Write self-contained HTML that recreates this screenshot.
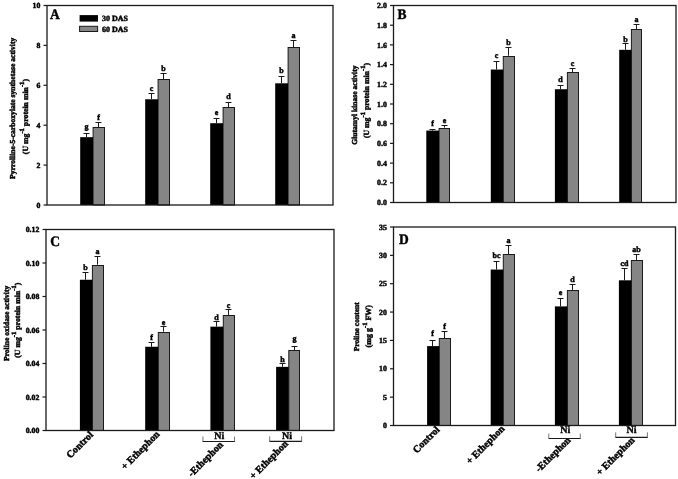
<!DOCTYPE html>
<html><head><meta charset="utf-8"><style>
html,body{margin:0;padding:0;background:#fff;}
svg{display:block;text-rendering:geometricPrecision;will-change:transform;}
text{font-family:"Liberation Serif", serif;font-weight:bold;fill:#000;stroke:#000;stroke-width:0.45px;}
.lt{font-size:8px;}
.tk{font-size:7.8px;}
.pl{font-size:14.5px;}
.lg{font-size:8px;}
.xl{font-size:10px;}
.ni{font-size:10px;stroke-width:0.4px;}
</style></head><body>
<svg width="678" height="479" viewBox="0 0 678 479">
<rect width="678" height="479" fill="#fff"/>
<rect x="93.10" y="127.50" width="11.40" height="77.50" fill="#858585" stroke="#1a1a1a" stroke-width="1"/>
<rect x="80.20" y="137.17" width="12.80" height="67.83" fill="#000"/>
<line x1="86.50" y1="137.17" x2="86.50" y2="133.50" stroke="#1a1a1a" stroke-width="1"/>
<line x1="83.50" y1="133.50" x2="89.50" y2="133.50" stroke="#1a1a1a" stroke-width="1"/>
<text x="86.50" y="128.60" text-anchor="middle" class="lt">g</text>
<line x1="98.50" y1="127.20" x2="98.50" y2="122.50" stroke="#1a1a1a" stroke-width="1"/>
<line x1="95.50" y1="122.50" x2="101.50" y2="122.50" stroke="#1a1a1a" stroke-width="1"/>
<text x="98.50" y="120.00" text-anchor="middle" class="lt">f</text>
<rect x="158.10" y="79.50" width="11.40" height="125.50" fill="#858585" stroke="#1a1a1a" stroke-width="1"/>
<rect x="145.20" y="99.27" width="12.80" height="105.73" fill="#000"/>
<line x1="151.50" y1="99.27" x2="151.50" y2="93.50" stroke="#1a1a1a" stroke-width="1"/>
<line x1="148.50" y1="93.50" x2="154.50" y2="93.50" stroke="#1a1a1a" stroke-width="1"/>
<text x="151.50" y="91.40" text-anchor="middle" class="lt">c</text>
<line x1="163.50" y1="79.32" x2="163.50" y2="73.50" stroke="#1a1a1a" stroke-width="1"/>
<line x1="160.50" y1="73.50" x2="166.50" y2="73.50" stroke="#1a1a1a" stroke-width="1"/>
<text x="163.50" y="71.20" text-anchor="middle" class="lt">b</text>
<rect x="223.10" y="107.50" width="11.40" height="97.50" fill="#858585" stroke="#1a1a1a" stroke-width="1"/>
<rect x="210.20" y="123.21" width="12.80" height="81.79" fill="#000"/>
<line x1="216.50" y1="123.21" x2="216.50" y2="118.50" stroke="#1a1a1a" stroke-width="1"/>
<line x1="213.50" y1="118.50" x2="219.50" y2="118.50" stroke="#1a1a1a" stroke-width="1"/>
<text x="216.50" y="115.40" text-anchor="middle" class="lt">e</text>
<line x1="228.50" y1="107.24" x2="228.50" y2="102.50" stroke="#1a1a1a" stroke-width="1"/>
<line x1="225.50" y1="102.50" x2="231.50" y2="102.50" stroke="#1a1a1a" stroke-width="1"/>
<text x="228.50" y="99.20" text-anchor="middle" class="lt">d</text>
<rect x="288.10" y="47.50" width="11.40" height="157.50" fill="#858585" stroke="#1a1a1a" stroke-width="1"/>
<rect x="275.20" y="83.31" width="12.80" height="121.69" fill="#000"/>
<line x1="281.50" y1="83.31" x2="281.50" y2="76.50" stroke="#1a1a1a" stroke-width="1"/>
<line x1="278.50" y1="76.50" x2="284.50" y2="76.50" stroke="#1a1a1a" stroke-width="1"/>
<text x="281.50" y="73.40" text-anchor="middle" class="lt">b</text>
<line x1="293.50" y1="47.40" x2="293.50" y2="40.50" stroke="#1a1a1a" stroke-width="1"/>
<line x1="290.50" y1="40.50" x2="296.50" y2="40.50" stroke="#1a1a1a" stroke-width="1"/>
<text x="293.50" y="38.00" text-anchor="middle" class="lt">a</text>
<rect x="47" y="5.5" width="286" height="199.5" fill="none" stroke="#1a1a1a" stroke-width="1.3"/>
<line x1="43.5" y1="205.00" x2="47" y2="205.00" stroke="#1a1a1a" stroke-width="1.2"/>
<text x="40.30" y="207.60" text-anchor="end" class="tk">0</text>
<line x1="43.5" y1="165.10" x2="47" y2="165.10" stroke="#1a1a1a" stroke-width="1.2"/>
<text x="40.30" y="167.70" text-anchor="end" class="tk">2</text>
<line x1="43.5" y1="125.20" x2="47" y2="125.20" stroke="#1a1a1a" stroke-width="1.2"/>
<text x="40.30" y="127.80" text-anchor="end" class="tk">4</text>
<line x1="43.5" y1="85.30" x2="47" y2="85.30" stroke="#1a1a1a" stroke-width="1.2"/>
<text x="40.30" y="87.90" text-anchor="end" class="tk">6</text>
<line x1="43.5" y1="45.40" x2="47" y2="45.40" stroke="#1a1a1a" stroke-width="1.2"/>
<text x="40.30" y="48.00" text-anchor="end" class="tk">8</text>
<line x1="43.5" y1="5.50" x2="47" y2="5.50" stroke="#1a1a1a" stroke-width="1.2"/>
<text x="40.30" y="8.10" text-anchor="end" class="tk">10</text>
<text transform="translate(49.90,18.70) scale(0.93,1)" class="pl">A</text>
<rect x="439.10" y="128.50" width="10.40" height="74.00" fill="#858585" stroke="#1a1a1a" stroke-width="1"/>
<rect x="426.30" y="130.59" width="12.70" height="71.91" fill="#000"/>
<line x1="432.50" y1="130.59" x2="432.50" y2="129.50" stroke="#1a1a1a" stroke-width="1"/>
<line x1="429.50" y1="129.50" x2="435.50" y2="129.50" stroke="#1a1a1a" stroke-width="1"/>
<text x="432.50" y="125.70" text-anchor="middle" class="lt">f</text>
<line x1="444.50" y1="127.64" x2="444.50" y2="125.50" stroke="#1a1a1a" stroke-width="1"/>
<line x1="441.50" y1="125.50" x2="447.50" y2="125.50" stroke="#1a1a1a" stroke-width="1"/>
<text x="444.50" y="122.90" text-anchor="middle" class="lt">e</text>
<rect x="503.30" y="56.50" width="11.20" height="146.00" fill="#858585" stroke="#1a1a1a" stroke-width="1"/>
<rect x="490.80" y="69.52" width="12.40" height="132.98" fill="#000"/>
<line x1="496.50" y1="69.52" x2="496.50" y2="61.50" stroke="#1a1a1a" stroke-width="1"/>
<line x1="493.50" y1="61.50" x2="499.50" y2="61.50" stroke="#1a1a1a" stroke-width="1"/>
<text x="496.50" y="58.10" text-anchor="middle" class="lt">c</text>
<line x1="508.50" y1="55.74" x2="508.50" y2="47.50" stroke="#1a1a1a" stroke-width="1"/>
<line x1="505.50" y1="47.50" x2="511.50" y2="47.50" stroke="#1a1a1a" stroke-width="1"/>
<text x="508.50" y="44.80" text-anchor="middle" class="lt">b</text>
<rect x="567.40" y="72.50" width="11.10" height="130.00" fill="#858585" stroke="#1a1a1a" stroke-width="1"/>
<rect x="554.90" y="89.23" width="12.40" height="113.27" fill="#000"/>
<line x1="560.50" y1="89.23" x2="560.50" y2="85.50" stroke="#1a1a1a" stroke-width="1"/>
<line x1="557.50" y1="85.50" x2="563.50" y2="85.50" stroke="#1a1a1a" stroke-width="1"/>
<text x="560.50" y="81.90" text-anchor="middle" class="lt">d</text>
<line x1="572.50" y1="72.48" x2="572.50" y2="68.50" stroke="#1a1a1a" stroke-width="1"/>
<line x1="569.50" y1="68.50" x2="575.50" y2="68.50" stroke="#1a1a1a" stroke-width="1"/>
<text x="572.50" y="66.00" text-anchor="middle" class="lt">c</text>
<rect x="631.40" y="29.50" width="10.10" height="173.00" fill="#858585" stroke="#1a1a1a" stroke-width="1"/>
<rect x="619.20" y="49.82" width="12.10" height="152.68" fill="#000"/>
<line x1="625.50" y1="49.82" x2="625.50" y2="43.50" stroke="#1a1a1a" stroke-width="1"/>
<line x1="622.50" y1="43.50" x2="628.50" y2="43.50" stroke="#1a1a1a" stroke-width="1"/>
<text x="625.50" y="41.80" text-anchor="middle" class="lt">b</text>
<line x1="636.50" y1="29.14" x2="636.50" y2="24.50" stroke="#1a1a1a" stroke-width="1"/>
<line x1="633.50" y1="24.50" x2="639.50" y2="24.50" stroke="#1a1a1a" stroke-width="1"/>
<text x="636.50" y="21.80" text-anchor="middle" class="lt">a</text>
<rect x="393.5" y="5.5" width="282.5" height="197.0" fill="none" stroke="#1a1a1a" stroke-width="1.3"/>
<line x1="390.0" y1="202.50" x2="393.5" y2="202.50" stroke="#1a1a1a" stroke-width="1.2"/>
<text x="386.80" y="205.10" text-anchor="end" class="tk">0.0</text>
<line x1="390.0" y1="182.80" x2="393.5" y2="182.80" stroke="#1a1a1a" stroke-width="1.2"/>
<text x="386.80" y="185.40" text-anchor="end" class="tk">0.2</text>
<line x1="390.0" y1="163.10" x2="393.5" y2="163.10" stroke="#1a1a1a" stroke-width="1.2"/>
<text x="386.80" y="165.70" text-anchor="end" class="tk">0.4</text>
<line x1="390.0" y1="143.40" x2="393.5" y2="143.40" stroke="#1a1a1a" stroke-width="1.2"/>
<text x="386.80" y="146.00" text-anchor="end" class="tk">0.6</text>
<line x1="390.0" y1="123.70" x2="393.5" y2="123.70" stroke="#1a1a1a" stroke-width="1.2"/>
<text x="386.80" y="126.30" text-anchor="end" class="tk">0.8</text>
<line x1="390.0" y1="104.00" x2="393.5" y2="104.00" stroke="#1a1a1a" stroke-width="1.2"/>
<text x="386.80" y="106.60" text-anchor="end" class="tk">1.0</text>
<line x1="390.0" y1="84.30" x2="393.5" y2="84.30" stroke="#1a1a1a" stroke-width="1.2"/>
<text x="386.80" y="86.90" text-anchor="end" class="tk">1.2</text>
<line x1="390.0" y1="64.60" x2="393.5" y2="64.60" stroke="#1a1a1a" stroke-width="1.2"/>
<text x="386.80" y="67.20" text-anchor="end" class="tk">1.4</text>
<line x1="390.0" y1="44.90" x2="393.5" y2="44.90" stroke="#1a1a1a" stroke-width="1.2"/>
<text x="386.80" y="47.50" text-anchor="end" class="tk">1.6</text>
<line x1="390.0" y1="25.20" x2="393.5" y2="25.20" stroke="#1a1a1a" stroke-width="1.2"/>
<text x="386.80" y="27.80" text-anchor="end" class="tk">1.8</text>
<line x1="390.0" y1="5.50" x2="393.5" y2="5.50" stroke="#1a1a1a" stroke-width="1.2"/>
<text x="386.80" y="8.10" text-anchor="end" class="tk">2.0</text>
<text transform="translate(397.40,18.90) scale(0.93,1)" class="pl">B</text>
<rect x="92.40" y="265.50" width="11.10" height="165.00" fill="#858585" stroke="#1a1a1a" stroke-width="1"/>
<rect x="79.90" y="279.75" width="12.40" height="150.75" fill="#000"/>
<line x1="85.50" y1="279.75" x2="85.50" y2="272.50" stroke="#1a1a1a" stroke-width="1"/>
<line x1="82.50" y1="272.50" x2="88.50" y2="272.50" stroke="#1a1a1a" stroke-width="1"/>
<text x="85.50" y="270.00" text-anchor="middle" class="lt">b</text>
<line x1="97.50" y1="264.67" x2="97.50" y2="256.50" stroke="#1a1a1a" stroke-width="1"/>
<line x1="94.50" y1="256.50" x2="100.50" y2="256.50" stroke="#1a1a1a" stroke-width="1"/>
<text x="97.50" y="253.70" text-anchor="middle" class="lt">a</text>
<rect x="158.30" y="332.50" width="11.20" height="98.00" fill="#858585" stroke="#1a1a1a" stroke-width="1"/>
<rect x="145.20" y="346.75" width="13.00" height="83.75" fill="#000"/>
<line x1="151.50" y1="346.75" x2="151.50" y2="342.50" stroke="#1a1a1a" stroke-width="1"/>
<line x1="148.50" y1="342.50" x2="154.50" y2="342.50" stroke="#1a1a1a" stroke-width="1"/>
<text x="151.50" y="339.70" text-anchor="middle" class="lt">f</text>
<line x1="163.50" y1="331.68" x2="163.50" y2="326.50" stroke="#1a1a1a" stroke-width="1"/>
<line x1="160.50" y1="326.50" x2="166.50" y2="326.50" stroke="#1a1a1a" stroke-width="1"/>
<text x="163.50" y="324.70" text-anchor="middle" class="lt">e</text>
<rect x="223.30" y="315.50" width="11.20" height="115.00" fill="#858585" stroke="#1a1a1a" stroke-width="1"/>
<rect x="210.40" y="326.65" width="12.80" height="103.85" fill="#000"/>
<line x1="216.50" y1="326.65" x2="216.50" y2="321.50" stroke="#1a1a1a" stroke-width="1"/>
<line x1="213.50" y1="321.50" x2="219.50" y2="321.50" stroke="#1a1a1a" stroke-width="1"/>
<text x="216.50" y="320.10" text-anchor="middle" class="lt">d</text>
<line x1="228.50" y1="314.93" x2="228.50" y2="309.50" stroke="#1a1a1a" stroke-width="1"/>
<line x1="225.50" y1="309.50" x2="231.50" y2="309.50" stroke="#1a1a1a" stroke-width="1"/>
<text x="228.50" y="307.60" text-anchor="middle" class="lt">c</text>
<rect x="288.80" y="350.50" width="10.70" height="80.00" fill="#858585" stroke="#1a1a1a" stroke-width="1"/>
<rect x="276.10" y="366.85" width="12.60" height="63.65" fill="#000"/>
<line x1="282.50" y1="366.85" x2="282.50" y2="363.50" stroke="#1a1a1a" stroke-width="1"/>
<line x1="279.50" y1="363.50" x2="285.50" y2="363.50" stroke="#1a1a1a" stroke-width="1"/>
<text x="282.50" y="361.70" text-anchor="middle" class="lt">h</text>
<line x1="294.50" y1="350.10" x2="294.50" y2="346.50" stroke="#1a1a1a" stroke-width="1"/>
<line x1="291.50" y1="346.50" x2="297.50" y2="346.50" stroke="#1a1a1a" stroke-width="1"/>
<text x="294.50" y="341.10" text-anchor="middle" class="lt">g</text>
<rect x="46" y="229.5" width="288" height="201.0" fill="none" stroke="#1a1a1a" stroke-width="1.3"/>
<line x1="42.5" y1="430.50" x2="46" y2="430.50" stroke="#1a1a1a" stroke-width="1.2"/>
<text x="39.30" y="433.10" text-anchor="end" class="tk">0.00</text>
<line x1="42.5" y1="397.00" x2="46" y2="397.00" stroke="#1a1a1a" stroke-width="1.2"/>
<text x="39.30" y="399.60" text-anchor="end" class="tk">0.02</text>
<line x1="42.5" y1="363.50" x2="46" y2="363.50" stroke="#1a1a1a" stroke-width="1.2"/>
<text x="39.30" y="366.10" text-anchor="end" class="tk">0.04</text>
<line x1="42.5" y1="330.00" x2="46" y2="330.00" stroke="#1a1a1a" stroke-width="1.2"/>
<text x="39.30" y="332.60" text-anchor="end" class="tk">0.06</text>
<line x1="42.5" y1="296.50" x2="46" y2="296.50" stroke="#1a1a1a" stroke-width="1.2"/>
<text x="39.30" y="299.10" text-anchor="end" class="tk">0.08</text>
<line x1="42.5" y1="263.00" x2="46" y2="263.00" stroke="#1a1a1a" stroke-width="1.2"/>
<text x="39.30" y="265.60" text-anchor="end" class="tk">0.10</text>
<line x1="42.5" y1="229.50" x2="46" y2="229.50" stroke="#1a1a1a" stroke-width="1.2"/>
<text x="39.30" y="232.10" text-anchor="end" class="tk">0.12</text>
<text transform="translate(50.20,245.70) scale(0.93,1)" class="pl">C</text>
<rect x="439.30" y="338.50" width="11.20" height="87.00" fill="#858585" stroke="#1a1a1a" stroke-width="1"/>
<rect x="427.10" y="346.10" width="12.10" height="79.40" fill="#000"/>
<line x1="432.50" y1="346.10" x2="432.50" y2="340.50" stroke="#1a1a1a" stroke-width="1"/>
<line x1="429.50" y1="340.50" x2="435.50" y2="340.50" stroke="#1a1a1a" stroke-width="1"/>
<text x="432.50" y="335.90" text-anchor="middle" class="lt">f</text>
<line x1="444.50" y1="338.16" x2="444.50" y2="331.50" stroke="#1a1a1a" stroke-width="1"/>
<line x1="441.50" y1="331.50" x2="447.50" y2="331.50" stroke="#1a1a1a" stroke-width="1"/>
<text x="444.50" y="328.60" text-anchor="middle" class="lt">f</text>
<rect x="503.30" y="254.50" width="11.20" height="171.00" fill="#858585" stroke="#1a1a1a" stroke-width="1"/>
<rect x="490.70" y="269.54" width="12.50" height="155.96" fill="#000"/>
<line x1="496.50" y1="269.54" x2="496.50" y2="261.50" stroke="#1a1a1a" stroke-width="1"/>
<line x1="493.50" y1="261.50" x2="499.50" y2="261.50" stroke="#1a1a1a" stroke-width="1"/>
<text x="496.50" y="257.70" text-anchor="middle" class="lt">bc</text>
<line x1="508.50" y1="254.22" x2="508.50" y2="245.50" stroke="#1a1a1a" stroke-width="1"/>
<line x1="505.50" y1="245.50" x2="511.50" y2="245.50" stroke="#1a1a1a" stroke-width="1"/>
<text x="508.50" y="242.60" text-anchor="middle" class="lt">a</text>
<rect x="567.40" y="290.50" width="11.10" height="135.00" fill="#858585" stroke="#1a1a1a" stroke-width="1"/>
<rect x="554.90" y="306.40" width="12.40" height="119.10" fill="#000"/>
<line x1="560.50" y1="306.40" x2="560.50" y2="298.50" stroke="#1a1a1a" stroke-width="1"/>
<line x1="557.50" y1="298.50" x2="563.50" y2="298.50" stroke="#1a1a1a" stroke-width="1"/>
<text x="560.50" y="295.30" text-anchor="middle" class="lt">e</text>
<line x1="572.50" y1="289.95" x2="572.50" y2="284.50" stroke="#1a1a1a" stroke-width="1"/>
<line x1="569.50" y1="284.50" x2="575.50" y2="284.50" stroke="#1a1a1a" stroke-width="1"/>
<text x="572.50" y="281.50" text-anchor="middle" class="lt">d</text>
<rect x="631.40" y="260.50" width="11.10" height="165.00" fill="#858585" stroke="#1a1a1a" stroke-width="1"/>
<rect x="618.90" y="280.31" width="12.40" height="145.19" fill="#000"/>
<line x1="624.50" y1="280.31" x2="624.50" y2="268.50" stroke="#1a1a1a" stroke-width="1"/>
<line x1="621.50" y1="268.50" x2="627.50" y2="268.50" stroke="#1a1a1a" stroke-width="1"/>
<text x="624.50" y="266.00" text-anchor="middle" class="lt">cd</text>
<line x1="636.50" y1="259.89" x2="636.50" y2="254.50" stroke="#1a1a1a" stroke-width="1"/>
<line x1="633.50" y1="254.50" x2="639.50" y2="254.50" stroke="#1a1a1a" stroke-width="1"/>
<text x="636.50" y="251.80" text-anchor="middle" class="lt">ab</text>
<rect x="393.5" y="227" width="282.0" height="198.5" fill="none" stroke="#1a1a1a" stroke-width="1.3"/>
<line x1="390.0" y1="425.50" x2="393.5" y2="425.50" stroke="#1a1a1a" stroke-width="1.2"/>
<text x="386.80" y="428.10" text-anchor="end" class="tk">0</text>
<line x1="390.0" y1="397.14" x2="393.5" y2="397.14" stroke="#1a1a1a" stroke-width="1.2"/>
<text x="386.80" y="399.74" text-anchor="end" class="tk">5</text>
<line x1="390.0" y1="368.79" x2="393.5" y2="368.79" stroke="#1a1a1a" stroke-width="1.2"/>
<text x="386.80" y="371.39" text-anchor="end" class="tk">10</text>
<line x1="390.0" y1="340.43" x2="393.5" y2="340.43" stroke="#1a1a1a" stroke-width="1.2"/>
<text x="386.80" y="343.03" text-anchor="end" class="tk">15</text>
<line x1="390.0" y1="312.07" x2="393.5" y2="312.07" stroke="#1a1a1a" stroke-width="1.2"/>
<text x="386.80" y="314.67" text-anchor="end" class="tk">20</text>
<line x1="390.0" y1="283.71" x2="393.5" y2="283.71" stroke="#1a1a1a" stroke-width="1.2"/>
<text x="386.80" y="286.31" text-anchor="end" class="tk">25</text>
<line x1="390.0" y1="255.36" x2="393.5" y2="255.36" stroke="#1a1a1a" stroke-width="1.2"/>
<text x="386.80" y="257.96" text-anchor="end" class="tk">30</text>
<line x1="390.0" y1="227.00" x2="393.5" y2="227.00" stroke="#1a1a1a" stroke-width="1.2"/>
<text x="386.80" y="229.60" text-anchor="end" class="tk">35</text>
<text transform="translate(399.00,244.20) scale(0.93,1)" class="pl">D</text>
<rect x="79.6" y="15.1" width="18.4" height="6.5" fill="#000"/>
<rect x="79.6" y="26.3" width="18" height="5.2" fill="#858585" stroke="#1a1a1a" stroke-width="1"/>
<text x="102" y="21.2" class="lg">30 DAS</text>
<text x="102" y="31.8" class="lg">60 DAS</text>
<text transform="translate(15.0,108.3) rotate(-90)" text-anchor="middle" font-size="7.6">Pyrrolline-5-carboxylate synthetase activity</text>
<text transform="translate(27.6,116.6) rotate(-90)" text-anchor="middle" font-size="7.8">(U mg<tspan dy="-4" font-size="6.6">-1</tspan><tspan dy="4"> protein min</tspan><tspan dy="-4" font-size="6.6">-1</tspan><tspan dy="4">)</tspan></text>
<text transform="translate(356.8,105.1) rotate(-90)" text-anchor="middle" font-size="7.6">Glutamyl kinase activity</text>
<text transform="translate(368.5,100.5) rotate(-90)" text-anchor="middle" font-size="7.8">(U mg<tspan dy="-4" font-size="6.6">-1</tspan><tspan dy="4"> protein min</tspan><tspan dy="-4" font-size="6.6">-1</tspan><tspan dy="4">)</tspan></text>
<text transform="translate(8.6,323.4) rotate(-90)" text-anchor="middle" font-size="7.6">Proline oxidase activity</text>
<text transform="translate(19.5,320.2) rotate(-90)" text-anchor="middle" font-size="7.8">(U mg<tspan dy="-4" font-size="6.6">-1</tspan><tspan dy="4"> protein min</tspan><tspan dy="-4" font-size="6.6">-1</tspan><tspan dy="4">)</tspan></text>
<text transform="translate(359.2,326.8) rotate(-90)" text-anchor="middle" font-size="7.56">Proline content</text>
<text transform="translate(370.7,326.2) rotate(-90)" text-anchor="middle" font-size="8">(mg g<tspan dy="-4" font-size="6.6">-1</tspan><tspan dy="4"> FW)</tspan></text>
<text transform="translate(93.70,435.40) rotate(-45)" text-anchor="end" class="xl">Control</text>
<text transform="translate(160.20,434.90) rotate(-45)" text-anchor="end" class="xl">+ Ethephon</text>
<text transform="translate(223.70,445.40) rotate(-45)" text-anchor="end" class="xl">-Ethephon</text>
<text transform="translate(288.70,444.40) rotate(-45)" text-anchor="end" class="xl">+ Ethephon</text>
<path d="M202.60 441.50 H234.80" fill="none" stroke="#1a1a1a" stroke-width="1.2"/>
<path d="M202.90 436.50 V441.50 M234.50 436.50 V441.50" fill="none" stroke="#555" stroke-width="0.8"/>
<text x="219.20" y="438.50" text-anchor="middle" class="ni">Ni</text>
<path d="M269.40 441.30 H301.90" fill="none" stroke="#1a1a1a" stroke-width="1.2"/>
<path d="M269.70 436.30 V441.30 M301.60 436.30 V441.30" fill="none" stroke="#555" stroke-width="0.8"/>
<text x="287.00" y="438.50" text-anchor="middle" class="ni">Ni</text>
<text transform="translate(440.20,430.20) rotate(-45)" text-anchor="end" class="xl">Control</text>
<text transform="translate(505.20,429.40) rotate(-45)" text-anchor="end" class="xl">+ Ethephon</text>
<text transform="translate(571.10,440.70) rotate(-45)" text-anchor="end" class="xl">-Ethephon</text>
<text transform="translate(635.20,440.70) rotate(-45)" text-anchor="end" class="xl">+ Ethephon</text>
<path d="M548.50 438.50 H580.60" fill="none" stroke="#1a1a1a" stroke-width="1.2"/>
<path d="M548.80 433.50 V438.50 M580.30 433.50 V438.50" fill="none" stroke="#555" stroke-width="0.8"/>
<text x="565.35" y="433.40" text-anchor="middle" class="ni">Ni</text>
<path d="M615.40 437.30 H647.70" fill="none" stroke="#1a1a1a" stroke-width="1.2"/>
<path d="M615.70 432.30 V437.30 M647.40 432.30 V437.30" fill="none" stroke="#555" stroke-width="0.8"/>
<text x="631.60" y="433.30" text-anchor="middle" class="ni">Ni</text>
</svg>
</body></html>
